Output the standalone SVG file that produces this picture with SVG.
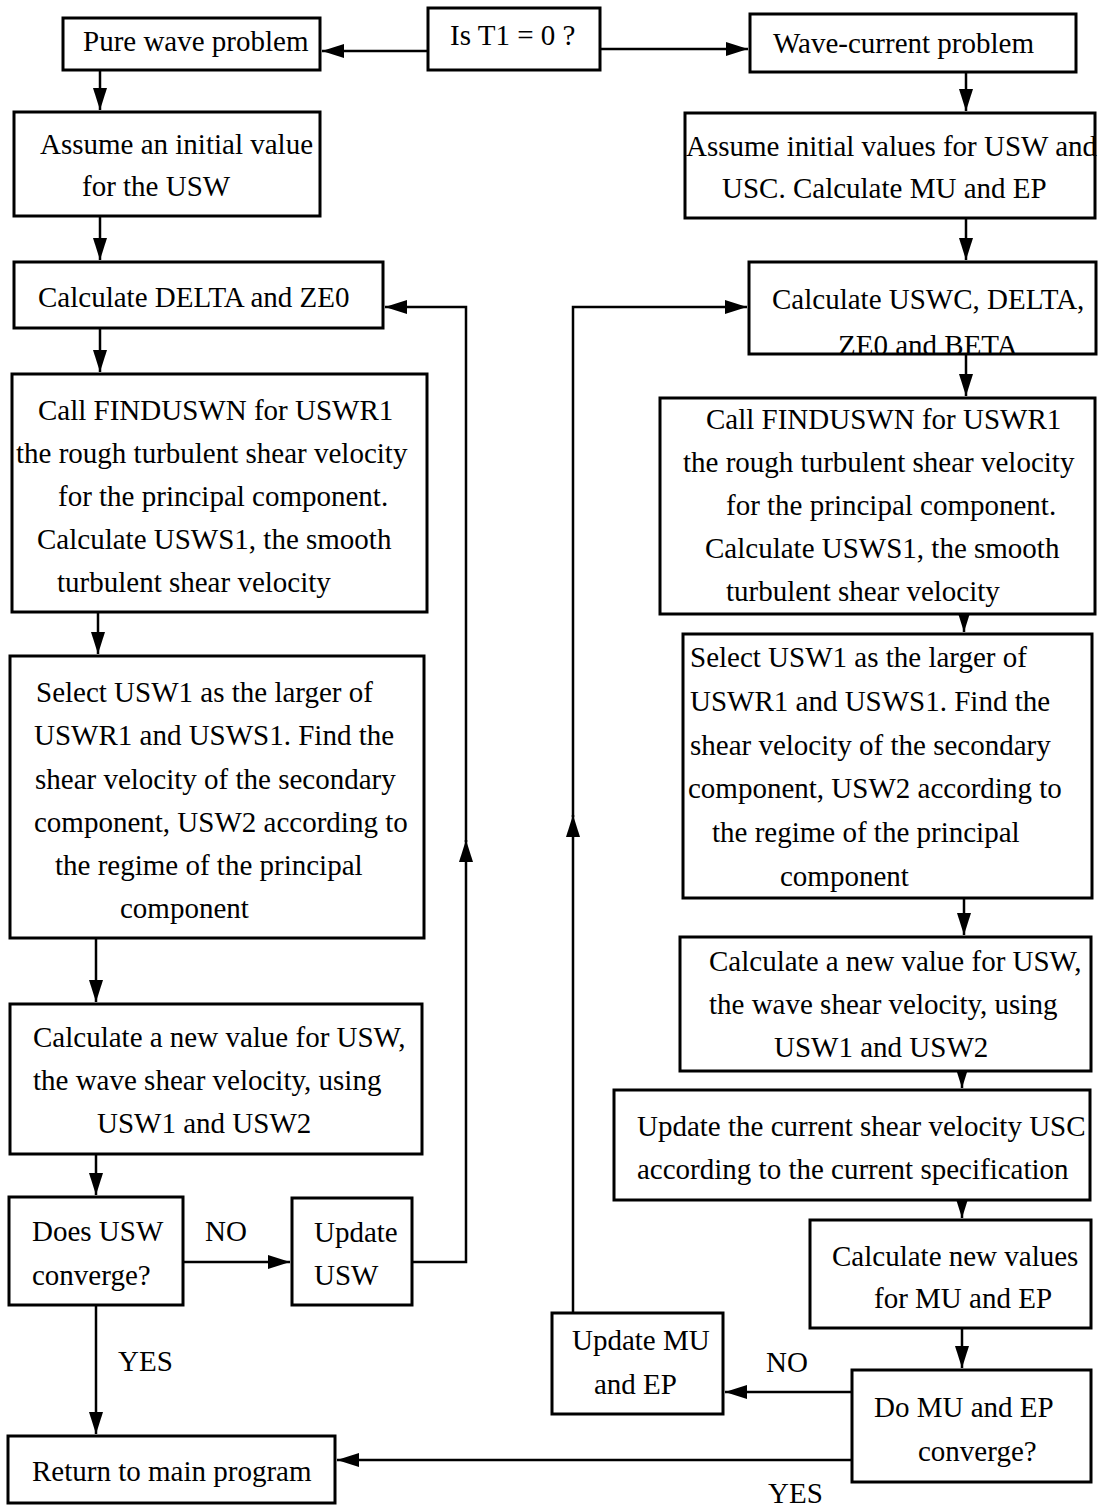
<svg xmlns="http://www.w3.org/2000/svg" width="1099" height="1506" viewBox="0 0 1099 1506">
<style>
.box{fill:#fff;stroke:#000;stroke-width:3}
.c{fill:none;stroke:#000;stroke-width:2.5}
text{font-family:"Liberation Serif","Times New Roman",serif;font-size:29px;fill:#000}
</style>
<defs>
<marker id="a" markerUnits="userSpaceOnUse" markerWidth="24" markerHeight="16" refX="22" refY="7" orient="auto">
<path d="M0,0 L22,7 L0,14 z" fill="#000"/>
</marker>
</defs>
<rect width="1099" height="1506" fill="#fff"/>
<g id="connectors">
<path class="c" d="M428,51 H322" marker-end="url(#a)"/>
<path class="c" d="M600,49 H748" marker-end="url(#a)"/>
<path class="c" d="M100,70 V110" marker-end="url(#a)"/>
<path class="c" d="M100,216 V260" marker-end="url(#a)"/>
<path class="c" d="M100,328 V372" marker-end="url(#a)"/>
<path class="c" d="M98,612 V654" marker-end="url(#a)"/>
<path class="c" d="M96,938 V1002" marker-end="url(#a)"/>
<path class="c" d="M96,1154 V1195" marker-end="url(#a)"/>
<path class="c" d="M183,1262 H290" marker-end="url(#a)"/>
<path class="c" d="M412,1262 H466 V840" marker-end="url(#a)"/>
<path class="c" d="M466,842 V307 H385" marker-end="url(#a)"/>
<path class="c" d="M96,1305 V1434" marker-end="url(#a)"/>
<path class="c" d="M966,72 V111" marker-end="url(#a)"/>
<path class="c" d="M966,218 V260" marker-end="url(#a)"/>
<path class="c" d="M966,354 V396" marker-end="url(#a)"/>
<path class="c" d="M964,614 V632" marker-end="url(#a)"/>
<path class="c" d="M964,898 V935" marker-end="url(#a)"/>
<path class="c" d="M962,1071 V1088" marker-end="url(#a)"/>
<path class="c" d="M962,1200 V1218" marker-end="url(#a)"/>
<path class="c" d="M962,1328 V1368" marker-end="url(#a)"/>
<path class="c" d="M852,1392 H725" marker-end="url(#a)"/>
<path class="c" d="M573,1313 V815" marker-end="url(#a)"/>
<path class="c" d="M573,817 V307 H747" marker-end="url(#a)"/>
<path class="c" d="M852,1460 H337" marker-end="url(#a)"/>
</g>
<g id="labels">
<text x="205" y="1241">NO</text>
<text x="118" y="1371">YES</text>
<text x="766" y="1372">NO</text>
<text x="768" y="1503">YES</text>
</g>
<g id="t1"><rect class="box" x="428" y="8" width="172" height="62"/><text x="450" y="45">Is T1 = 0 ?</text></g>
<g id="pure"><rect class="box" x="63" y="18" width="257" height="52"/><text x="83" y="51">Pure wave problem</text></g>
<g id="wc"><rect class="box" x="750" y="14" width="326" height="58"/><text x="773" y="53">Wave-current problem</text></g>
<g id="assumeL"><rect class="box" x="14" y="112" width="306" height="104"/><text x="40" y="154">Assume an initial value</text><text x="82" y="196">for the USW</text></g>
<g id="assumeR"><rect class="box" x="685" y="113" width="410" height="105"/><text x="686" y="156">Assume initial values for USW and</text><text x="722" y="198">USC. Calculate MU and EP</text></g>
<g id="deltaL"><rect class="box" x="14" y="262" width="369" height="66"/><text x="38" y="307">Calculate DELTA and ZE0</text></g>
<g id="deltaR"><rect class="box" x="749" y="262" width="347" height="92"/><text x="772" y="309">Calculate USWC, DELTA,</text><text x="838" y="355">ZE0 and BETA</text></g>
<g id="callL"><rect class="box" x="12" y="374" width="415" height="238"/>
<text x="38" y="420">Call FINDUSWN for USWR1</text>
<text x="16" y="463">the rough turbulent shear velocity</text>
<text x="58" y="506">for the principal component.</text>
<text x="37" y="549">Calculate USWS1, the smooth</text>
<text x="57" y="592">turbulent shear velocity</text></g>
<g id="callR"><rect class="box" x="660" y="398" width="435" height="216"/>
<text x="706" y="429">Call FINDUSWN for USWR1</text>
<text x="683" y="472">the rough turbulent shear velocity</text>
<text x="726" y="515">for the principal component.</text>
<text x="705" y="558">Calculate USWS1, the smooth</text>
<text x="726" y="601">turbulent shear velocity</text></g>
<g id="selL"><rect class="box" x="10" y="656" width="414" height="282"/>
<text x="36" y="702">Select USW1 as the larger of</text>
<text x="34" y="745">USWR1 and USWS1. Find the</text>
<text x="35" y="789">shear velocity of the secondary</text>
<text x="34" y="832">component, USW2 according to</text>
<text x="55" y="875">the regime of the principal</text>
<text x="120" y="918">component</text></g>
<g id="selR"><rect class="box" x="683" y="634" width="409" height="264"/>
<text x="690" y="667">Select USW1 as the larger of</text>
<text x="690" y="711">USWR1 and USWS1. Find the</text>
<text x="690" y="755">shear velocity of the secondary</text>
<text x="688" y="798">component, USW2 according to</text>
<text x="712" y="842">the regime of the principal</text>
<text x="780" y="886">component</text></g>
<g id="newL"><rect class="box" x="10" y="1004" width="412" height="150"/>
<text x="33" y="1047">Calculate a new value for USW,</text>
<text x="33" y="1090">the wave shear velocity, using</text>
<text x="97" y="1133">USW1 and USW2</text></g>
<g id="newR"><rect class="box" x="680" y="937" width="411" height="134"/>
<text x="709" y="971">Calculate a new value for USW,</text>
<text x="709" y="1014">the wave shear velocity, using</text>
<text x="774" y="1057">USW1 and USW2</text></g>
<g id="usc"><rect class="box" x="614" y="1090" width="476" height="110"/>
<text x="637" y="1136">Update the current shear velocity USC</text>
<text x="637" y="1179">according to the current specification</text></g>
<g id="convL"><rect class="box" x="9" y="1197" width="174" height="108"/><text x="32" y="1241">Does USW</text><text x="32" y="1285">converge?</text></g>
<g id="updUSW"><rect class="box" x="292" y="1198" width="120" height="107"/><text x="314" y="1242">Update</text><text x="314" y="1285">USW</text></g>
<g id="newMU"><rect class="box" x="810" y="1220" width="281" height="108"/><text x="832" y="1266">Calculate new values</text><text x="874" y="1308">for MU and EP</text></g>
<g id="updMU"><rect class="box" x="552" y="1313" width="171" height="101"/><text x="572" y="1350">Update MU</text><text x="594" y="1394">and EP</text></g>
<g id="convR"><rect class="box" x="852" y="1370" width="239" height="112"/><text x="874" y="1417">Do MU and EP</text><text x="918" y="1461">converge?</text></g>
<g id="ret"><rect class="box" x="8" y="1436" width="327" height="67"/><text x="32" y="1481">Return to main program</text></g>
</svg>
